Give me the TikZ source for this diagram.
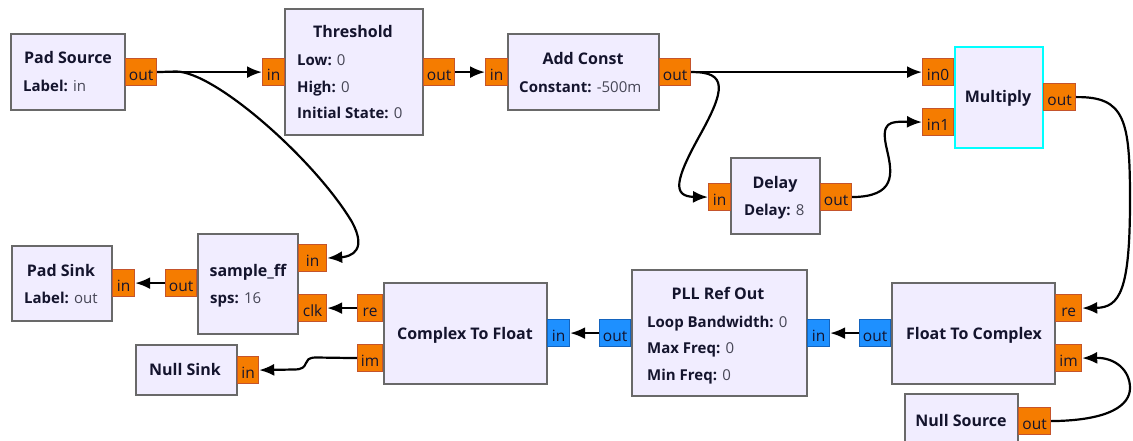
\documentclass[tikz,border=0pt]{standalone}
\usepackage{fontspec}
\setmainfont{Open Sans}
\usetikzlibrary{positioning}
\usetikzlibrary{arrows.meta}
\definecolor{blkfill}{RGB}{241,237,255}
\definecolor{blkline}{RGB}{105,105,105}
\definecolor{fltfill}{RGB}{245,124,0}
\definecolor{fltline}{RGB}{196,84,44}
\definecolor{cpxfill}{RGB}{30,144,255}
\definecolor{cpxline}{RGB}{20,100,190}
\definecolor{selline}{RGB}{0,255,255}
\definecolor{txt}{RGB}{20,20,45}
\definecolor{val}{RGB}{70,70,85}
\newcommand{\blkparam}[2]{\textbf{#1:} \textcolor{val}{#2}}
\tikzset{
	blk/.style={draw=blkline, fill=blkfill, line width=2.4pt, anchor=north west, inner sep=0pt},
	ttl/.style={font=\fontsize{16}{18}\selectfont\bfseries, text=txt, anchor=base, inner sep=0pt},
	prm/.style={font=\fontsize{15}{18}\selectfont, text=txt, anchor=base west, inner sep=0pt},
	fport/.style={draw=fltline, fill=fltfill, line width=1.2pt, anchor=north west, inner sep=0pt,
		minimum height=27, text height=18pt, text depth=2pt, font=\fontsize{15.5}{18}\selectfont, text=txt},
	cport/.style={fport, draw=cpxline, fill=cpxfill},
	wire/.style={line width=2.2pt, -{Latex[length=15pt,width=12pt]}},
}
\begin{document}
\begin{tikzpicture}[x=1pt, y=-1pt]
	\path[use as bounding box, fill=white] (0,0) rectangle (1133,441);
	% blocks
	\node[blk, minimum width=114, minimum height=76] (padsrc) at (10,33) {};
	\node[ttl] (padsrcT) at (68,64) {Pad Source};
	\node[prm] (padsrcP) at (23,92) {\blkparam{Label}{in}};
	\node[blk, minimum width=138, minimum height=126] (thr) at (284,8) {};
	\node[ttl] (thrT) at (353,38) {Threshold};
	\node[prm] (thrP1) at (297,66) {\blkparam{Low}{0}};
	\node[prm] (thrP2) at (297,92.5) {\blkparam{High}{0}};
	\node[prm] (thrP3) at (297,119) {\blkparam{Initial State}{0}};
	\node[blk, minimum width=151, minimum height=76] (addc) at (507,33) {};
	\node[ttl] (addcT) at (583,64.5) {Add Const};
	\node[prm] (addcP) at (519,92.5) {\blkparam{Constant}{-500m}};
	\node[blk, draw=selline, minimum width=88, minimum height=101] (mult) at (954,46) {};
	\node[ttl] (multT) at (998,102.5) {Multiply};
	\node[blk, minimum width=89, minimum height=76] (delay) at (730,157) {};
	\node[ttl] (delayT) at (775,188.5) {Delay};
	\node[prm] (delayP) at (744,215.5) {\blkparam{Delay}{8}};
	\node[blk, minimum width=100, minimum height=75] (padsnk) at (11,245) {};
	\node[ttl] (padsnkT) at (61,276) {Pad Sink};
	\node[prm] (padsnkP) at (24,303.5) {\blkparam{Label}{out}};
	\node[blk, minimum width=100, minimum height=100] (samp) at (197,233) {};
	\node[ttl] (sampT) at (248,276) {sample\_ff};
	\node[prm] (sampP) at (210,303.5) {\blkparam{sps}{16}};
	\node[blk, minimum width=163, minimum height=101] (ctf) at (383,282) {};
	\node[ttl] (ctfT) at (465,339) {Complex To Float};
	\node[blk, minimum width=101, minimum height=50] (nsnk) at (135,344) {};
	\node[ttl] (nsnkT) at (185,375.5) {Null Sink};
	\node[blk, minimum width=175, minimum height=126] (pll) at (631,269) {};
	\node[ttl] (pllT) at (718,299.5) {PLL Ref Out};
	\node[prm] (pllP1) at (647,327.5) {\blkparam{Loop Bandwidth}{0}};
	\node[prm] (pllP2) at (647,353.5) {\blkparam{Max Freq}{0}};
	\node[prm] (pllP3) at (647,380) {\blkparam{Min Freq}{0}};
	\node[blk, minimum width=163, minimum height=101] (ftc) at (891,282) {};
	\node[ttl] (ftcT) at (974,339) {Float To Complex};
	\node[blk, minimum width=113, minimum height=67] (nsrc) at (904,393) {};
	\node[ttl] (nsrcT) at (961,426) {Null Source};
	% ports
	\node[fport, minimum width=31] (padsrcOut) at (125,58) {out};
	\node[fport, minimum width=22] (thrIn) at (262,58) {in};
	\node[fport, minimum width=31] (thrOut) at (423,58) {out};
	\node[fport, minimum width=22] (addcIn) at (485,58) {in};
	\node[fport, minimum width=31] (addcOut) at (659,58) {out};
	\node[fport, minimum width=31] (multIn0) at (922,58) {in0};
	\node[fport, minimum width=31] (multIn1) at (922,108) {in1};
	\node[fport, minimum width=32] (multOut) at (1043,83) {out};
	\node[fport, minimum width=22] (delayIn) at (708,183) {in};
	\node[fport, minimum width=31] (delayOut) at (820,183) {out};
	\node[fport, minimum width=22] (padsnkIn) at (112,269) {in};
	\node[fport, minimum width=31] (sampOut) at (165,269) {out};
	\node[fport, minimum width=28] (sampIn) at (298,244) {in};
	\node[fport, minimum width=28] (sampClk) at (298,294) {clk};
	\node[fport, minimum width=25] (ctfRe) at (357,294) {re};
	\node[fport, minimum width=25] (ctfIm) at (357,344) {im};
	\node[cport, minimum width=22] (ctfIn) at (547,319) {in};
	\node[fport, minimum width=21] (nsnkIn) at (237,356) {in};
	\node[cport, minimum width=31] (pllOut) at (599,319) {out};
	\node[cport, minimum width=22] (pllIn) at (807,319) {in};
	\node[cport, minimum width=31] (ftcOut) at (859,319) {out};
	\node[fport, minimum width=26] (ftcRe) at (1055,294) {re};
	\node[fport, minimum width=26] (ftcIm) at (1055,344) {im};
	\node[fport, minimum width=32] (nsrcOut) at (1018,407) {out};
	% connections
	\draw[wire] (padsrcOut.east) -- (thrIn.west);
	\draw[wire] (padsrcOut.east) -- (176,71.5) .. controls (215,71.5) and (315,160) .. (352,222) .. controls (366,248) and (355,257.5) .. (337,257.5) -- (sampIn.east);
	\draw[wire] (thrOut.east) -- (addcIn.west);
	\draw[wire] (addcOut.east) -- (multIn0.west);
	\draw[wire] (addcOut.east) .. controls (728,71.5) and (725,90) .. (700,135) .. controls (675,180) and (672,196.5) .. (delayIn.west);
	\draw[wire] (delayOut.east) .. controls (895,196.5) and (893,175) .. (887,150) .. controls (880,121) and (890,121.5) .. (multIn1.west);
	\draw[wire] (multOut.east) .. controls (1125,96.5) and (1130,120) .. (1130,200) .. controls (1130,290) and (1120,307.5) .. (ftcRe.east);
	\draw[wire] (nsrcOut.east) .. controls (1110,420.5) and (1130,405) .. (1130,388) .. controls (1130,370) and (1115,357.5) .. (ftcIm.east);
	\draw[wire] (ftcOut.west) -- (pllIn.east);
	\draw[wire] (pllOut.west) -- (ctfIn.east);
	\draw[wire] (ctfRe.west) -- (sampClk.east);
	\draw[wire] (ctfIm.west) -- (316,357.5) .. controls (300,357.5) and (312,369.5) .. (294,369.5) -- (nsnkIn.east);
	\draw[wire] (sampOut.west) -- (padsnkIn.east);
\end{tikzpicture}
\end{document}
